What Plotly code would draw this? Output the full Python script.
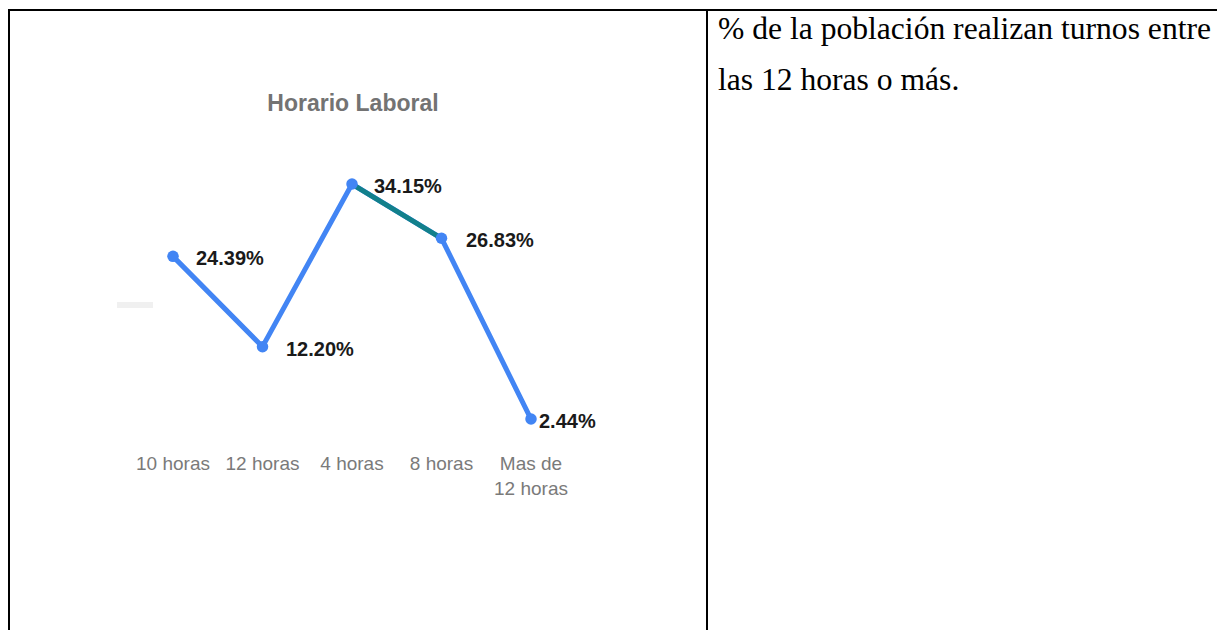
import plotly.graph_objects as go

# ---- data ----
categories = ["10 horas", "12 horas", "4 horas", "8 horas", "Mas de<br>12 horas"]
values = [24.39, 12.20, 34.15, 26.83, 2.44]
chart_title = "Horario Laboral"
side_text_lines = ["% de la población realizan turnos entre", "las 12 horas o más."]

# ---- style ----
OFF = 8                      # default page body margin
W, H = 1225 - OFF, 630 - OFF
BLUE = "#4285F4"
TEAL = "#12808B"
label_xshift = [21, 21, 20, 22, 6]

def px_x(x):
    return (x - OFF) / W

def px_y(y):
    return 1 - (y - OFF) / H

fig = go.Figure()

# main blue line
fig.add_trace(go.Scatter(
    x=categories, y=values, mode="lines",
    line=dict(color=BLUE, width=5), hoverinfo="skip", showlegend=False,
))
# highlighted segment (4 horas -> 8 horas)
fig.add_trace(go.Scatter(
    x=categories[2:4], y=values[2:4], mode="lines",
    line=dict(color=TEAL, width=5), hoverinfo="skip", showlegend=False,
))
# markers on top
fig.add_trace(go.Scatter(
    x=categories, y=values, mode="markers",
    marker=dict(color=BLUE, size=11.5), showlegend=False,
))

annotations = []
for c, v, dx in zip(categories, values, label_xshift):
    annotations.append(dict(
        x=c, y=v, xref="x", yref="y", text=f"<b>{v:.2f}%</b>",
        showarrow=False, xanchor="left", yanchor="middle",
        xshift=dx, yshift=-2,
        font=dict(family="Liberation Sans, Arial", size=20, color="#1a1a1a"),
    ))

# side text (right table cell)
side_y = [29, 80]
for t, yy in zip(side_text_lines, side_y):
    annotations.append(dict(
        x=px_x(716), y=px_y(yy), xref="paper", yref="paper", text=t,
        showarrow=False, xanchor="left", yanchor="middle",
        font=dict(family="Liberation Serif, Times New Roman", size=31.6, color="#000000"),
    ))

shapes = [
    # table borders
    dict(type="line", xref="paper", yref="paper", x0=px_x(8), x1=1, y0=px_y(10), y1=px_y(10),
         line=dict(color="black", width=2)),
    dict(type="line", xref="paper", yref="paper", x0=px_x(9), x1=px_x(9), y0=px_y(10), y1=0,
         line=dict(color="black", width=2)),
    dict(type="line", xref="paper", yref="paper", x0=px_x(707), x1=px_x(707), y0=px_y(10), y1=0,
         line=dict(color="black", width=2)),
    # faint legend remnant
    dict(type="rect", xref="paper", yref="paper", x0=px_x(117), x1=px_x(153), y0=px_y(308), y1=px_y(302),
         fillcolor="#f0f0f0", line=dict(width=0)),
]

# axis placement (reference pixel coordinates)
x_left, x_right = 128.25, 575.75
y_bottom, y_top = 437.1, 140.7

fig.update_layout(
    width=W, height=H, autosize=False,
    margin=dict(l=0, r=0, t=0, b=0),
    paper_bgcolor="white", plot_bgcolor="white",
    title=dict(text=f"<b>{chart_title}</b>", x=px_x(353), y=px_y(103),
               xanchor="center", yanchor="middle",
               font=dict(family="Liberation Sans, Arial", size=23, color="#737373")),
    xaxis=dict(domain=[px_x(x_left), px_x(x_right)], range=[-0.5, 4.5],
               showgrid=False, zeroline=False, showline=False, ticks="",
               tickfont=dict(family="Liberation Sans, Arial", size=19, color="#7a7a7a"),
               ticklabelstandoff=13, fixedrange=True),
    yaxis=dict(domain=[px_y(y_bottom), px_y(y_top)], range=[0, 40],
               showgrid=False, zeroline=False, showline=False, showticklabels=False,
               ticks="", fixedrange=True),
    annotations=annotations,
    shapes=shapes,
    showlegend=False,
)

fig.write_html("out.html")
